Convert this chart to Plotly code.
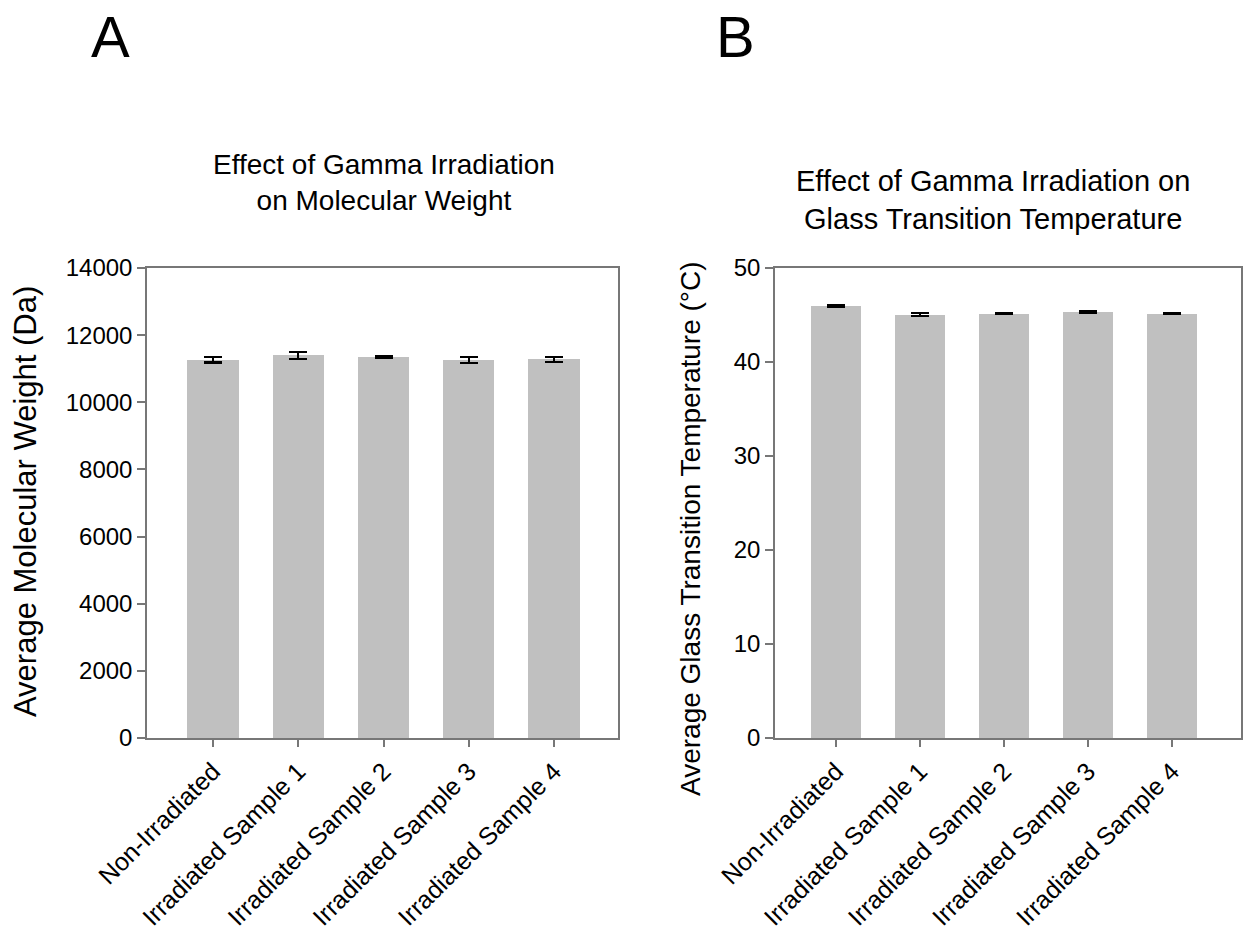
import plotly.graph_objects as go

categories = ["Non-Irradiated", "Irradiated Sample 1", "Irradiated Sample 2",
              "Irradiated Sample 3", "Irradiated Sample 4"]
mw_values = [11265, 11395, 11345, 11260, 11280]
mw_errors = [80, 95, 25, 85, 80]
tg_values = [45.97, 45.05, 45.16, 45.30, 45.16]
tg_errors = [0.12, 0.15, 0.05, 0.08, 0.08]

FONT = "Liberation Sans, Arial, sans-serif"
W, H = 1243, 932
BAR = "#c0c0c0"
AX = "#777777"

fig = go.Figure()
xs = list(range(len(categories)))

fig.add_trace(go.Bar(x=xs, y=mw_values, width=0.6, marker=dict(color=BAR, line=dict(width=0)),
                     error_y=dict(type="data", array=mw_errors, color="black", thickness=2.2, width=9),
                     xaxis="x", yaxis="y", showlegend=False))
fig.add_trace(go.Bar(x=xs, y=tg_values, width=0.6, marker=dict(color=BAR, line=dict(width=0)),
                     error_y=dict(type="data", array=tg_errors, color="black", thickness=2.2, width=9),
                     xaxis="x2", yaxis="y2", showlegend=False))

def px_x(p):
    return p / W

def px_y(p):
    return 1 - p / H

common_x = dict(tickmode="array", tickvals=xs, ticktext=categories, tickangle=-45,
                ticks="outside", ticklen=7, tickcolor=AX, tickwidth=1.5,
                showline=True, linecolor=AX, linewidth=1.5, mirror=True,
                showgrid=False, zeroline=False, automargin=False,
                tickfont=dict(family=FONT, size=25, color="black"))
common_y = dict(ticks="outside", ticklen=8, tickcolor=AX, tickwidth=1.5,
                showline=True, linecolor=AX, linewidth=1.5, mirror=True,
                showgrid=False, zeroline=False, automargin=False, tickformat="d",
                tickfont=dict(family=FONT, size=24, color="black"))

fig.update_layout(
    width=W, height=H, margin=dict(l=0, r=0, t=0, b=0, autoexpand=False),
    paper_bgcolor="white", plot_bgcolor="white",
    font=dict(family=FONT, color="black"),
    bargap=0,
    xaxis=dict(domain=[px_x(147), px_x(618)], range=[-0.775, 4.75], anchor="y", **common_x),
    yaxis=dict(domain=[px_y(738), px_y(268)], range=[0, 14000], dtick=2000, anchor="x", **common_y),
    xaxis2=dict(domain=[px_x(775), px_x(1241)], range=[-0.726, 4.82], anchor="y2", **common_x),
    yaxis2=dict(domain=[px_y(738), px_y(268)], range=[0, 50], dtick=10, anchor="x2", **common_y),
)

# panel letters
for letter, xc in (("A", 110), ("B", 735)):
    fig.add_annotation(text=letter, x=px_x(xc), y=px_y(2), xref="paper", yref="paper",
                       xanchor="center", yanchor="top", showarrow=False,
                       font=dict(family=FONT, size=58, color="black"))

ann = [
    dict(text="Effect of Gamma Irradiation<br>on Molecular Weight", x=px_x(384), y=px_y(182), size=28),
    dict(text="Effect of Gamma Irradiation on<br>Glass Transition Temperature", x=px_x(993), y=px_y(200), size=29),
]
for a in ann:
    fig.add_annotation(text=a["text"], x=a["x"], y=a["y"], xref="paper", yref="paper",
                       xanchor="center", yanchor="middle", showarrow=False,
                       font=dict(family=FONT, size=a["size"], color="black"), align="center")

fig.add_annotation(text="Average Molecular Weight (Da)", x=px_x(25), y=px_y(502),
                   xref="paper", yref="paper", xanchor="center", yanchor="middle",
                   textangle=-90, showarrow=False, font=dict(family=FONT, size=31, color="black"))
fig.add_annotation(text="Average Glass Transition Temperature (°C)", x=px_x(690), y=px_y(529),
                   xref="paper", yref="paper", xanchor="center", yanchor="middle",
                   textangle=-90, showarrow=False, font=dict(family=FONT, size=28, color="black"))

fig.write_html("out.html")
